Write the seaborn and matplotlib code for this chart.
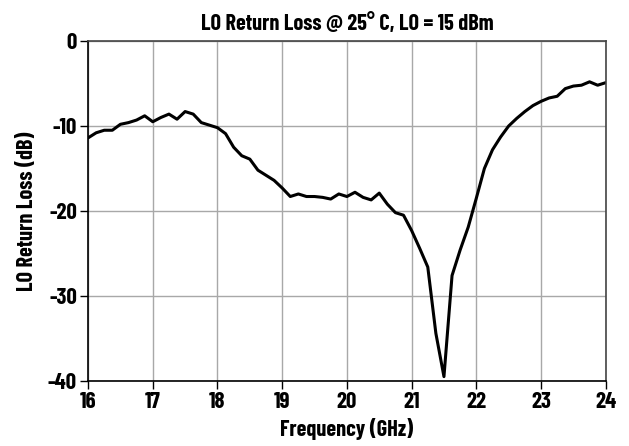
import matplotlib
matplotlib.use('Agg')
import matplotlib.pyplot as plt
import seaborn as sns
import pandas as pd

# LO return loss measured at 25 C, LO = 15 dBm
freq_ghz = [16.0, 16.125, 16.25, 16.375, 16.5, 16.625, 16.75, 16.875,
            17.0, 17.125, 17.25, 17.375, 17.5, 17.625, 17.75, 17.875,
            18.0, 18.125, 18.25, 18.375, 18.5, 18.625, 18.75, 18.875,
            19.0, 19.125, 19.25, 19.375, 19.5, 19.625, 19.75, 19.875,
            20.0, 20.125, 20.25, 20.375, 20.5, 20.625, 20.75, 20.875,
            21.0, 21.125, 21.25, 21.375, 21.5, 21.625, 21.75, 21.875,
            22.0, 22.125, 22.25, 22.375, 22.5, 22.625, 22.75, 22.875,
            23.0, 23.125, 23.25, 23.375, 23.5, 23.625, 23.75, 23.875,
            24.0]
return_loss_db = [-11.4, -10.8, -10.5, -10.5, -9.8, -9.6, -9.3, -8.8,
                  -9.5, -9.0, -8.6, -9.2, -8.3, -8.6, -9.6, -9.9,
                  -10.2, -10.9, -12.5, -13.5, -13.9, -15.2, -15.8, -16.4,
                  -17.3, -18.3, -18.0, -18.3, -18.3, -18.4, -18.6, -18.0,
                  -18.3, -17.8, -18.4, -18.7, -17.9, -19.2, -20.2, -20.5,
                  -22.3, -24.4, -26.6, -34.4, -39.5, -27.6, -24.6, -21.9,
                  -18.5, -15.0, -12.8, -11.3, -10.0, -9.1, -8.3, -7.6,
                  -7.1, -6.7, -6.5, -5.6, -5.3, -5.2, -4.8, -5.2,
                  -4.9]
x_ticks = [16, 17, 18, 19, 20, 21, 22, 23, 24]
y_ticks = [0, -10, -20, -30, -40]

df = pd.DataFrame({'freq': freq_ghz, 'rl': return_loss_db})

sns.set_style('white')
plt.rcParams['font.family'] = ['Barlow Condensed', 'DejaVu Sans']
plt.rcParams['axes.unicode_minus'] = False
plt.rcParams['text.color'] = 'black'
plt.rcParams['axes.labelcolor'] = 'black'
plt.rcParams['xtick.color'] = 'black'
plt.rcParams['ytick.color'] = 'black'

fig = plt.figure(figsize=(6.29, 4.46), dpi=100)
ax = fig.add_axes([0.14, 0.146, 0.823, 0.762])

sns.lineplot(data=df, x='freq', y='rl', color='black', linewidth=2.2, ax=ax)

ax.set_xlim(16, 24)
ax.set_ylim(-40, 0)
ax.set_xticks(x_ticks)
ax.set_yticks(y_ticks)
ax.grid(True, color='#a8a8a8', linewidth=1)
for side in ['left', 'bottom']:
    ax.spines[side].set_color('black')
for side in ['top', 'right']:
    ax.spines[side].set_color('#444444')
for s in ax.spines.values():
    s.set_linewidth(1.2)
ax.tick_params(axis='both', direction='out', length=6, width=1, color='black',
               labelsize=16.5, pad=2, left=True, bottom=True)
for lbl in ax.get_xticklabels() + ax.get_yticklabels():
    lbl.set_fontweight('bold')

ax.set_title('LO Return Loss @ 25° C, LO = 15 dBm', fontsize=16, fontweight='bold', pad=8)
ax.set_xlabel('Frequency (GHz)', fontsize=16, fontweight='bold', labelpad=4)
ax.set_ylabel('LO Return Loss (dB)', fontsize=16, fontweight='bold', labelpad=8)

fig.savefig('out.png', dpi=100)
